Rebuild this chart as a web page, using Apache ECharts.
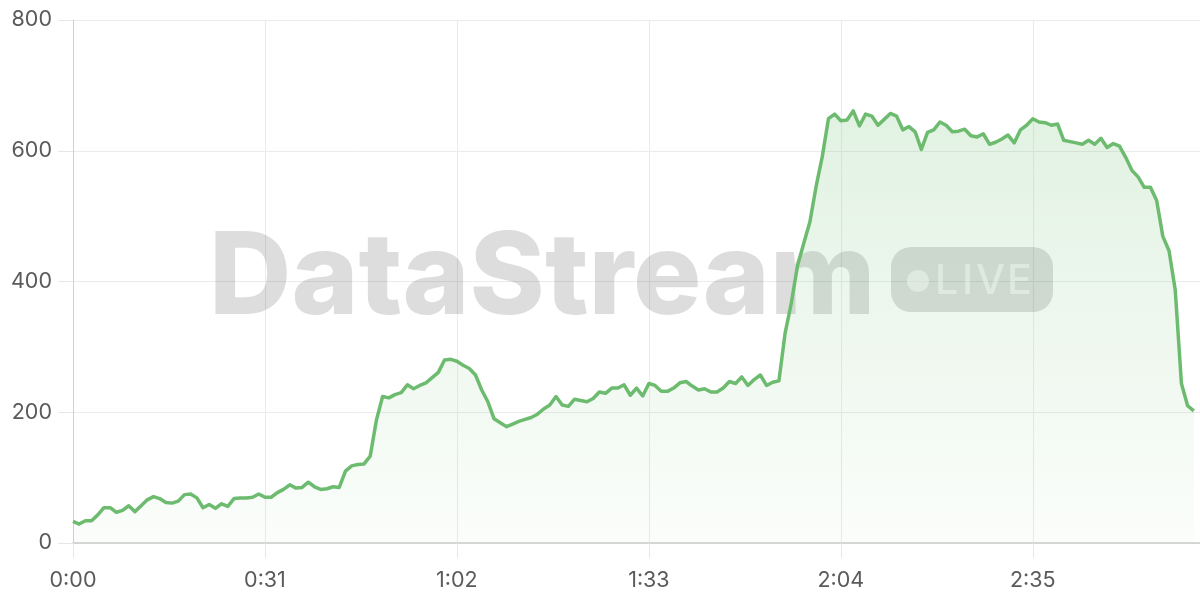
<!DOCTYPE html>
<html>
<head>
<meta charset="utf-8">
<script src="https://cdn.jsdelivr.net/npm/echarts@6/dist/echarts.min.js"></script>
<style>
html,body{margin:0;padding:0;background:#fff;}
#chart{width:1200px;height:600px;}
</style>
</head>
<body>
<div id="chart"></div>
<script>
// sample spacing in seconds
const startSec = 0;
const stepSec = 1;
// throughput values, one per second
const traffic = [
  33,29,34,34,43,54,54,47,50,57,48,57,66,71,68,62,61,64,74,75,
  69,54,59,53,60,56,68,69,69,70,75,70,70,77,82,89,84,85,93,86,
  82,83,86,85,110,118,120,121,133,188,224,222,227,230,242,236,241,245,253,261,
  280,281,278,272,267,257,234,216,190,184,178,182,186,189,192,197,205,211,224,211,
  209,220,218,216,221,231,229,237,237,242,226,237,225,244,241,232,232,237,245,247,
  240,234,236,231,231,237,247,244,254,241,250,257,241,246,248,321,367,424,458,491,
  545,591,649,656,646,647,661,638,656,653,639,648,657,653,632,637,629,602,628,632,
  644,639,629,630,633,623,621,626,610,613,618,624,612,632,639,649,644,643,639,641,
  616,614,612,610,616,610,619,605,611,607,590,570,560,544,544,524,469,447,387,244,
  210,202
];
// axis settings
const xMax = 182;
const xTickStep = 31;
const yTicks = [0, 200, 400, 600, 800];
const watermarkTitle = 'DataStream';
const watermarkBadgeLetters = ['L', 'I', 'V', 'E'];

const seriesData = traffic.map((v, i) => [startSec + i * stepSec, v]);

function fmtTime(s) {
  const m = Math.floor(s / 60);
  const ss = Math.round(s % 60);
  return m + ':' + (ss < 10 ? '0' + ss : ss);
}

const chart = echarts.init(document.getElementById('chart'), null, {renderer: 'canvas'});
const labelFont = {color: '#5a5a5a', fontSize: 21.5, fontFamily: 'Inter'};
const wmFill = 'rgba(0,0,0,0.135)';
const wmLight = 'rgba(255,255,255,0.55)';
const badgeLetterX = [935, 962, 976, 1007];

const graphics = [
  {type: 'text', z: 1, silent: true,
    style: {x: 209, y: 280, text: watermarkTitle, fill: wmFill,
      font: '800 114px Inter', align: 'left', verticalAlign: 'middle'}},
  {type: 'rect', z: 1, silent: true,
    shape: {x: 891, y: 247, width: 162, height: 65, r: 20},
    style: {fill: wmFill}},
  {type: 'circle', z: 1, silent: true,
    shape: {cx: 918, cy: 281, r: 11},
    style: {fill: wmLight}}
];
watermarkBadgeLetters.forEach((ch, k) => {
  graphics.push({type: 'text', z: 1, silent: true,
    style: {x: badgeLetterX[k], y: 282, text: ch, fill: wmLight,
      font: '500 41px Inter', align: 'left', verticalAlign: 'middle'}});
});

chart.setOption({
  animation: false,
  backgroundColor: '#fff',
  grid: {left: 73, right: 0, top: 20, bottom: 57, containLabel: false},
  xAxis: {
    type: 'value',
    min: 0,
    max: xMax,
    interval: xTickStep,
    axisLine: {show: true, lineStyle: {color: '#ccc', width: 1.5}},
    axisTick: {show: true, length: 15, lineStyle: {color: '#e6e6e6'}},
    axisLabel: Object.assign({margin: 27, showMaxLabel: false, formatter: fmtTime}, labelFont),
    splitLine: {show: true, lineStyle: {color: '#ebebeb'}}
  },
  yAxis: {
    type: 'value',
    min: yTicks[0],
    max: yTicks[yTicks.length - 1],
    interval: yTicks[1] - yTicks[0],
    axisLine: {show: true, lineStyle: {color: '#d0d0d0'}},
    axisTick: {show: true, length: 15, lineStyle: {color: '#e6e6e6'}},
    axisLabel: Object.assign({margin: 21}, labelFont),
    splitLine: {show: true, lineStyle: {color: '#ebebeb'}}
  },
  graphic: graphics,
  series: [{
    type: 'line',
    data: seriesData,
    showSymbol: false,
    symbol: 'none',
    smooth: false,
    z: 3,
    lineStyle: {color: '#6dbb6f', width: 3.5, join: 'round'},
    areaStyle: {
      color: new echarts.graphic.LinearGradient(0, 0, 0, 1, [
        {offset: 0, color: 'rgba(102,187,106,0.28)'},
        {offset: 1, color: 'rgba(102,187,106,0.04)'}
      ])
    }
  }]
});
</script>
</body>
</html>
